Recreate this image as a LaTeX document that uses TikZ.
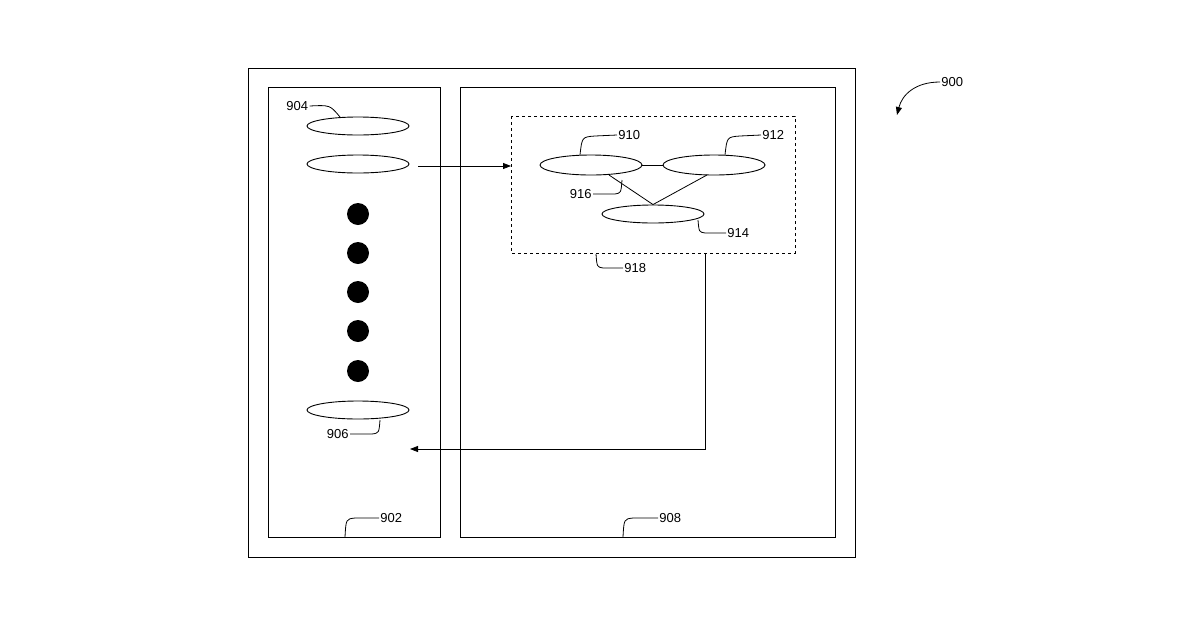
\documentclass[tikz,border=0pt]{standalone}
\usepackage{fontspec}
\setmainfont{Liberation Sans}
\usetikzlibrary{arrows.meta,shapes.geometric}
\begin{document}
\begin{tikzpicture}[x=1pt,y=-1pt,line width=0.9pt,
  ell/.style={draw,ellipse,minimum width=102pt,minimum height=18pt,inner sep=0pt},
  dot/.style={fill,circle,minimum size=22pt,inner sep=0pt},
  lbl/.style={font=\fontsize{13}{13}\selectfont,inner sep=1pt},
  lead/.style={line width=0.8pt},
  arr/.style={-{Triangle[length=8pt,width=6pt]},line width=0.8pt}]
\useasboundingbox (0,0) rectangle (1200,630);
\draw (248,68) rectangle (855,557);
\draw (268,87) rectangle (440,537);
\draw (460,87) rectangle (835,537);
\node[ell] (e904) at (358,126) {};
\node[ell] (e2) at (358,164) {};
\node[ell] (e906) at (358,410) {};
\foreach \y/\n in {214/1,253/2,292/3,331/4,371/5} \node[dot] (d\n) at (358,\y) {};
\draw[dashed] (511,116) rectangle (795,253);
\coordinate (dbL) at (511,166);
\node[ell,minimum height=20pt] (e910) at (591,165) {};
\node[ell,minimum height=20pt] (e912) at (714,165) {};
\node[ell] (e914) at (653,214) {};
\draw[line width=0.8pt] (e910.east) -- (e912.west);
\draw[line width=0.8pt] (609,175) -- (e914.north) -- (707,175);
\draw[arr] (418,166) -- (dbL);
\coordinate (c1) at (705,253);
\coordinate (c2) at (410,449);
\draw[arr] (c1) |- (c2);
% labels
\node[lbl,anchor=west] (l904) at (285,106) {904};
\draw[lead] (l904.east) .. controls (330,105) .. (340,117);
\node[lbl,anchor=west] (l910) at (617,135) {910};
\draw[lead] (l910.west) -- (595,136) .. controls (582,137) .. (580,155);
\node[lbl,anchor=west] (l912) at (761,135) {912};
\draw[lead] (l912.west) -- (740,136) .. controls (727,137) .. (725,155);
\node[lbl,anchor=east] (l916) at (593,194) {916};
\draw[lead] (l916.east) -- (615,194) .. controls (621,193) .. (622,180);
\node[lbl,anchor=west] (l914) at (726,233) {914};
\draw[lead] (l914.west) -- (705,233) .. controls (699,232) .. (698,220);
\node[lbl,anchor=west] (l918) at (623,268) {918};
\draw[lead] (l918.west) -- (603,268) .. controls (597,267) .. (596,254);
\node[lbl,anchor=east] (l906) at (350,434) {906};
\draw[lead] (l906.east) -- (372,434) .. controls (379,433) .. (380,420);
\node[lbl,anchor=west] (l902) at (379,518) {902};
\draw[lead] (l902.west) -- (355,518) .. controls (346,519) .. (345,537);
\node[lbl,anchor=west] (l908) at (658,518) {908};
\draw[lead] (l908.west) -- (633,518) .. controls (624,519) .. (623,537);
\node[lbl,anchor=west] (l900) at (940,82) {900};
\coordinate (a900) at (897,115);
\draw[arr] (l900.west) .. controls (915,82) and (902,95) .. (a900);
\end{tikzpicture}
\end{document}
